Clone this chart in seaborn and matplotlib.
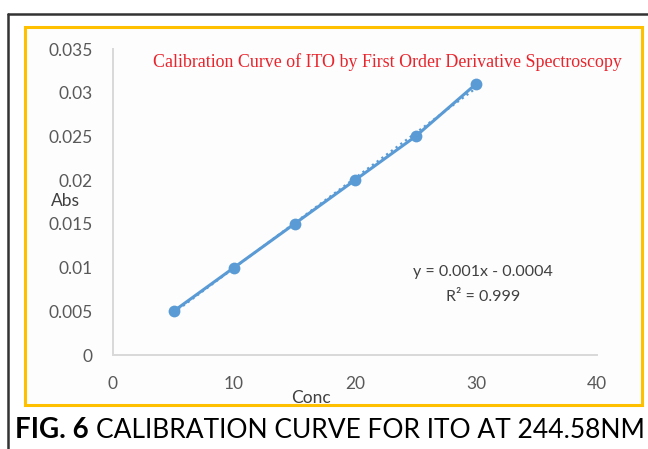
import numpy as np
import pandas as pd
import matplotlib
matplotlib.use("Agg")
import matplotlib.pyplot as plt
import seaborn as sns
from matplotlib.patches import Rectangle
from matplotlib.lines import Line2D

conc = [5, 10, 15, 20, 25, 30]
absorbance = [0.005, 0.010, 0.015, 0.020, 0.025, 0.031]
x_ticks = [0, 10, 20, 30, 40]
y_ticks = [0, 0.005, 0.01, 0.015, 0.02, 0.025, 0.03, 0.035]
y_tick_labels = ["0", "0.005", "0.01", "0.015", "0.02", "0.025", "0.03", "0.035"]

sns.set_theme(style="white")
plt.rcParams['font.family'] = ['Lato', 'DejaVu Sans']

W, H = 648, 449
fig = plt.figure(figsize=(W / 100, H / 100), dpi=100)
fig.patch.set_facecolor("white")

# outer frame (black) and orange chart border
fig.add_artist(Line2D([8 / W, 8 / W], [0, 1 - 14 / H], color="#333333", lw=1.8,
                      transform=fig.transFigure, zorder=-2))
fig.add_artist(Line2D([8 / W, 1], [1 - 14 / H, 1 - 14 / H], color="#333333", lw=1.8,
                      transform=fig.transFigure, zorder=-2))
fig.add_artist(Rectangle((25 / W, 1 - 405 / H), 617 / W, 378 / H, transform=fig.transFigure,
                         facecolor="#FDFDFD", edgecolor="#FFC000", lw=2.2, zorder=-1))

ax = fig.add_axes([113 / W, 1 - 355 / H, 484 / W, 306 / H])
ax.set_facecolor("none")
df = pd.DataFrame({"Conc": conc, "Abs": absorbance})
blue = "#5B9BD5"
sns.lineplot(data=df, x="Conc", y="Abs", ax=ax, color=blue, lw=2.2, marker="o",
             markersize=8.5, markeredgewidth=0)
sns.regplot(data=df, x="Conc", y="Abs", ax=ax, scatter=False, ci=None,
            line_kws=dict(color=blue, lw=1.6, linestyle=":"))

ax.set_xlim(0, 40)
ax.set_ylim(0, 0.035)
ax.set_xticks(x_ticks)
ax.set_xticklabels([str(t) for t in x_ticks])
ax.set_yticks(y_ticks)
ax.set_yticklabels(y_tick_labels)
ax.tick_params(axis="both", length=0, labelsize=12.5, labelcolor="#595959")
ax.tick_params(axis="y", pad=14.5)
ax.tick_params(axis="x", pad=15)
for s in ["top", "right"]:
    ax.spines[s].set_visible(False)
for s in ["left", "bottom"]:
    ax.spines[s].set_color("#D9D9D9")
    ax.spines[s].set_linewidth(1.4)

ax.set_xlabel("")
ax.set_ylabel("")
fig.text(311 / W, 1 - 398 / H, "Conc", ha="center", va="center", fontsize=12.5, color="#404040")
fig.text(65 / W, 1 - 201 / H, "Abs", ha="center", va="center", fontsize=12.5, color="#404040")

fig.text(387 / W, 1 - 62 / H, "Calibration Curve of ITO by First Order Derivative Spectroscopy",
         ha="center", va="center", fontsize=12.9, color="#E8242C", family="Liberation Serif")

fig.text(483 / W, 1 - 272 / H, "y = 0.001x - 0.0004", ha="center", va="center",
         fontsize=11.5, color="#404040")
fig.text(483 / W, 1 - 297 / H, "R² = 0.999", ha="center", va="center",
         fontsize=11.5, color="#404040")

t1 = fig.text(15 / W, 1 - 430 / H, "FIG. 6", ha="left", va="center", fontsize=20,
              fontweight="bold", color="black")
fig.canvas.draw()
bb = t1.get_window_extent()
fig.text((bb.x1 + 7) / W, 1 - 430 / H, "CALIBRATION CURVE FOR ITO AT 244.58NM", ha="left",
         va="center", fontsize=19, color="black")

fig.savefig("out.png", dpi=100)
